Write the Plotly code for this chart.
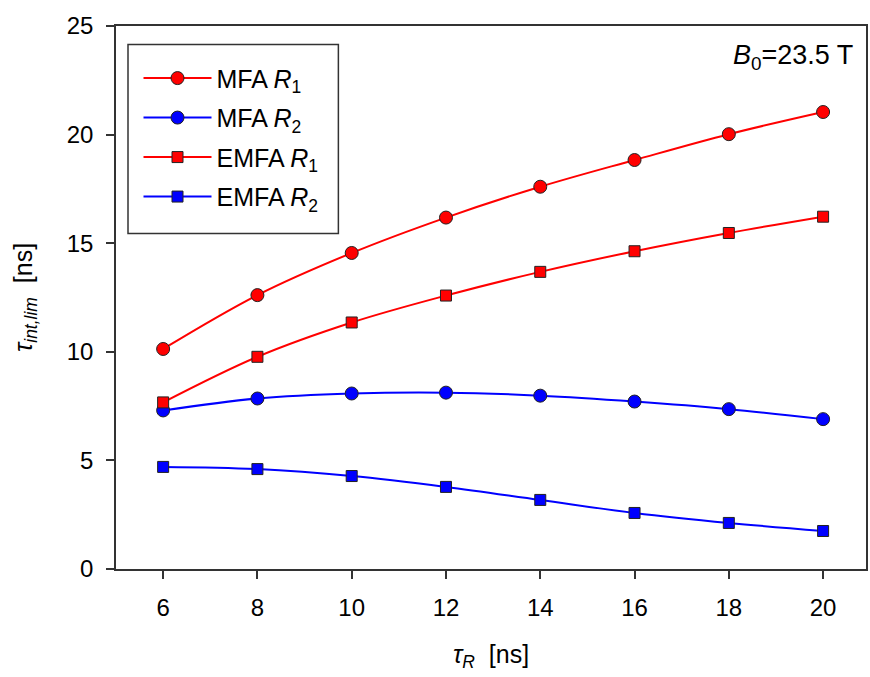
import plotly.graph_objects as go

tau_R = [6, 8, 10, 12, 14, 16, 18, 20]
mfa_r1 = [10.13, 12.61, 14.55, 16.18, 17.60, 18.83, 20.02, 21.04]
mfa_r2 = [7.30, 7.85, 8.08, 8.12, 7.98, 7.71, 7.36, 6.90]
emfa_r1 = [7.67, 9.77, 11.35, 12.59, 13.68, 14.63, 15.47, 16.22]
emfa_r2 = [4.70, 4.60, 4.28, 3.78, 3.18, 2.58, 2.12, 1.75]

names = ["MFA <i>R</i><sub>1</sub>", "MFA <i>R</i><sub>2</sub>",
         "EMFA <i>R</i><sub>1</sub>", "EMFA <i>R</i><sub>2</sub>"]
series = [mfa_r1, mfa_r2, emfa_r1, emfa_r2]
colors = ["#ff0000", "#0000ff", "#ff0000", "#0000ff"]
symbols = ["circle", "circle", "square", "square"]
sizes = [13, 13, 11, 11]

FONT = "Liberation Sans, Arial, sans-serif"

fig = go.Figure()
for i, (nm, ys) in enumerate(zip(names, series)):
    fig.add_trace(go.Scatter(
        x=tau_R, y=ys, name=nm, mode="lines+markers",
        legendgroup=f"g{i}",
        line=dict(color=colors[i], width=2, shape="spline", smoothing=1.0),
        marker=dict(symbol=symbols[i], size=sizes[i], color=colors[i],
                    line=dict(color="#222222", width=1)),
    ))

# legend frame
fig.add_shape(type="rect", xref="paper", yref="paper",
              x0=0.016, x1=0.2965, y0=0.618, y1=0.966,
              line=dict(color="#333333", width=1.5), fillcolor="white",
              layer="below")

fig.update_layout(
    width=870, height=677,
    margin=dict(l=116, r=2, t=26, b=108),
    paper_bgcolor="white", plot_bgcolor="white",
    font=dict(family=FONT, size=24, color="black"),
    showlegend=True,
    legend=dict(
        x=0.030, y=0.946, xanchor="left", yanchor="top",
        borderwidth=0, bgcolor="rgba(0,0,0,0)",
        font=dict(family=FONT, size=25),
        tracegroupgap=4, itemwidth=68,
    ),
    xaxis=dict(
        range=[5, 20.91], tickvals=tau_R, ticks="outside", ticklen=8, tickwidth=1.5,
        tickcolor="#333333", showline=True, linecolor="#333333", linewidth=1.5,
        mirror=True, showgrid=False, zeroline=False,
        tickfont=dict(family=FONT, size=24), ticklabelstandoff=8,
        title=dict(text="<i>τ</i><sub><i>R</i></sub>  [ns]", standoff=26,
                   font=dict(family=FONT, size=25)),
    ),
    yaxis=dict(
        range=[0, 25], tickvals=[0, 5, 10, 15, 20, 25], ticks="outside", ticklen=8,
        tickwidth=1.5, tickcolor="#333333", showline=True, linecolor="#333333",
        linewidth=1.5, mirror=True, showgrid=False, zeroline=False,
        tickfont=dict(family=FONT, size=24), ticklabelstandoff=8,
        title=dict(text="<i>τ</i><sub><i>int,lim</i></sub>  [ns]", standoff=27,
                   font=dict(family=FONT, size=25)),
    ),
)

fig.add_annotation(
    x=0.985, y=0.978, xref="paper", yref="paper", xanchor="right", yanchor="top",
    text="<i>B</i><sub>0</sub>=23.5 T", showarrow=False,
    font=dict(family=FONT, size=27, color="black"),
)

fig.write_html("out.html")
